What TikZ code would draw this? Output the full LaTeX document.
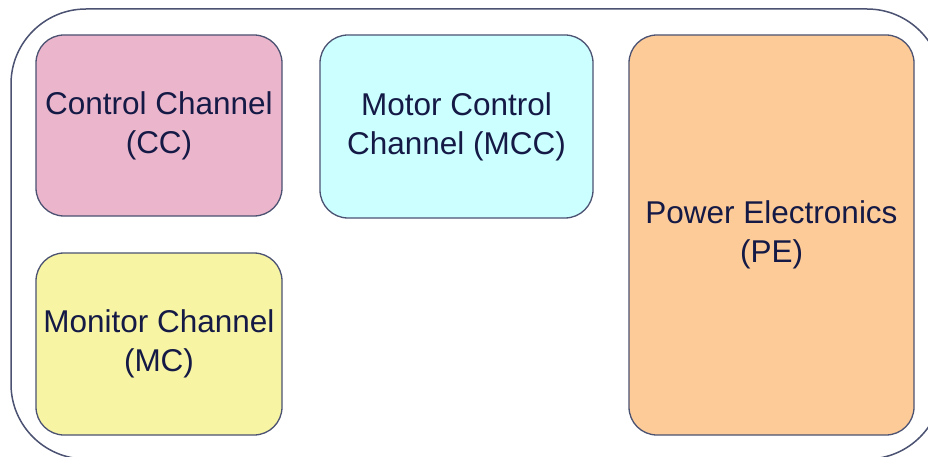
\documentclass[tikz,border=0pt]{standalone}
\usepackage{fontspec}
\setmainfont{Liberation Sans}
\definecolor{edge}{HTML}{4B5272}
\definecolor{txt}{HTML}{141A45}
\definecolor{ccfill}{HTML}{EBB6CB}
\definecolor{mccfill}{HTML}{CCFFFF}
\definecolor{mcfill}{HTML}{F7F4A3}
\definecolor{pefill}{HTML}{FDCB98}
\tikzset{
  blockbox/.style={draw=edge, line width=1.3pt, rounded corners=28pt, inner sep=0pt,
    align=center, text=txt, font=\fontsize{31.5}{39}\selectfont},
  framebox/.style={draw=edge, line width=1.5pt, rounded corners=75pt, inner sep=0pt}
}
\begin{document}
\begin{tikzpicture}[x=1pt,y=-1pt]
\useasboundingbox (0,0) rectangle (928,457);
\clip (0,0) rectangle (928,457);
\fill[white] (0,0) rectangle (928,457);
\node[framebox, minimum width=931pt, minimum height=450pt] (frame) at (476.5,234) {};
\node[blockbox, fill=ccfill, minimum width=246pt, minimum height=181pt] (cc) at (159,125.5) {Control Channel\\(CC)};
\node[blockbox, fill=mccfill, minimum width=273pt, minimum height=183pt] (mcc) at (456.5,126.5) {Motor Control\\Channel (MCC)};
\node[blockbox, fill=mcfill, minimum width=246pt, minimum height=182pt] (mc) at (159,344) {Monitor Channel\\(MC)};
\node[blockbox, fill=pefill, minimum width=285pt, minimum height=400pt] (pe) at (771.5,235) {Power Electronics\\(PE)};
\end{tikzpicture}
\end{document}
